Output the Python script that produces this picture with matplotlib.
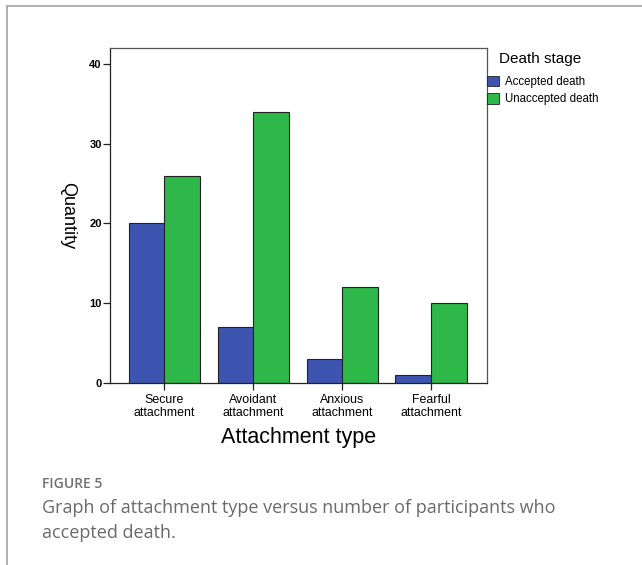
import numpy as np
import matplotlib.pyplot as plt
from matplotlib.lines import Line2D
from matplotlib.patches import Patch

# data
categories = ['Secure\nattachment', 'Avoidant\nattachment', 'Anxious\nattachment', 'Fearful\nattachment']
accepted = [20, 7, 3, 1]
unaccepted = [26, 34, 12, 10]
series_names = ['Accepted death', 'Unaccepted death']
y_ticks = [0, 10, 20, 30, 40]

blue = '#3d55b0'
green = '#2eb84a'

W, H = 642, 565
plt.rcParams['font.family'] = ['Liberation Sans', 'DejaVu Sans']

fig = plt.figure(figsize=(W / 100, H / 100), dpi=100)
ax = fig.add_axes([110 / W, 1 - 383 / H, 377 / W, 335 / H])

x = np.arange(len(categories))
w = 0.40
ax.bar(x - w / 2, accepted, w, color=blue, edgecolor='#222222', linewidth=0.8)
ax.bar(x + w / 2, unaccepted, w, color=green, edgecolor='#222222', linewidth=0.8)

ax.set_xlim(-0.612, 3.63)
ax.set_ylim(0, 42)
ax.set_yticks(y_ticks)
ax.set_yticklabels([str(v) for v in y_ticks], fontsize=8, fontweight='bold')
ax.set_xticks(x)
ax.set_xticklabels(categories, fontsize=8.9, linespacing=1.05)
ax.tick_params(axis='both', direction='out', length=5, width=0.9, color='#222222')
ax.tick_params(axis='y', pad=1)
ax.tick_params(axis='x', pad=3)
for s in ax.spines.values():
    s.set_color('#555555')
    s.set_linewidth(0.9)
ax.spines['left'].set_color('#222222')
ax.spines['bottom'].set_color('#222222')

ax.set_xlabel('Attachment type', fontsize=15.5, labelpad=6)
ax.set_ylabel('Quantity', fontsize=13, rotation=270, va='center')
ax.yaxis.set_label_coords((68 - 110) / 377, 0.5)

# legend: title placed separately so it sits indented like the original
fig.text(499 / W, 1 - 59 / H, 'Death stage', fontsize=11, va='center', ha='left')
handles = [Patch(facecolor=blue, edgecolor='#222222', linewidth=0.6),
           Patch(facecolor=green, edgecolor='#222222', linewidth=0.6)]
fig.legend(handles, series_names, loc='upper left',
           bbox_to_anchor=(487 / W, 1 - 76 / H), frameon=False,
           fontsize=8.3, handlelength=1.05, handleheight=1.0,
           handletextpad=0.5, labelspacing=0.45, borderaxespad=0, borderpad=0)

# page frame lines and caption
fig.add_artist(Line2D([7 / W, 1], [1 - 6 / H, 1 - 6 / H], color='#aaaaaa', lw=1.3))
fig.add_artist(Line2D([7 / W, 7 / W], [0, 1 - 6 / H], color='#aaaaaa', lw=1.3))

cap_font = ['Open Sans', 'DejaVu Sans']
fig.text(42 / W, 1 - 488 / H, 'FIGURE 5', fontsize=10, color='#707070',
         family=cap_font, fontweight='semibold', va='baseline', ha='left')
fig.text(42 / W, 1 - 513 / H, 'Graph of attachment type versus number of participants who',
         fontsize=13, color='#6a6a6a', family=cap_font, va='baseline', ha='left')
fig.text(42 / W, 1 - 538 / H, 'accepted death.',
         fontsize=13, color='#6a6a6a', family=cap_font, va='baseline', ha='left')

fig.savefig('out.png', dpi=100)
